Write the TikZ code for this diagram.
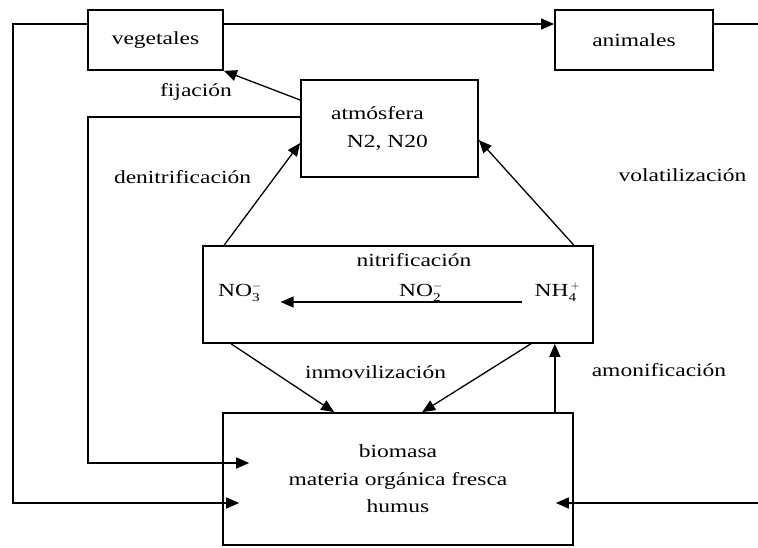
\documentclass[tikz,border=0pt]{standalone}
\usepackage{fontspec}
\setmainfont{Liberation Serif}[FakeStretch=1.27]
\usetikzlibrary{arrows.meta,calc}
\newcommand{\ionq}[3]{$\hbox{#1}_{\hbox{\fontsize{12}{12}\selectfont #2}}^{#3}$}

\begin{document}
\begin{tikzpicture}[x=1pt,y=-1pt,line width=1.3pt,
    font=\fontsize{18.5}{27.5}\selectfont,
    caja/.style={draw,line width=1.7pt,inner sep=0pt,align=center},
    rotulo/.style={inner sep=0pt,anchor=base},
    flecha/.style={-{Triangle[length=13pt,width=11pt]}}]
  \useasboundingbox (0,0) rectangle (758,548);
  % boxes
  \node[caja,minimum width=135,minimum height=60] (veg) at (155.5,40) {vegetales};
  \node[caja,minimum width=158,minimum height=60] (ani) at (634,40) {animales};
  \node[caja,minimum width=177,minimum height=97,align=left] (atm) at (389.5,128.5)
    {atmósfera\\\hspace*{0.85em}N2, N20\hspace*{20pt}};
  \node[caja,minimum width=390,minimum height=97] (sue) at (398,294.5) {};
  \node[caja,minimum width=350,minimum height=132] (bio) at (398,479)
    {biomasa\\materia orgánica fresca\hspace*{18pt}\\humus};
  % labels of the processes
  \node[rotulo] (fij) at (196,97) {fijación};
  \node[rotulo] (den) at (182.5,184) {denitrificación};
  \node[rotulo] (vol) at (682.5,182) {volatilización};
  \node[rotulo] (nitr) at (414,267) {nitrificación};
  \node[rotulo] (inm) at (375.5,378) {inmovilización};
  \node[rotulo] (amo) at (659,376) {amonificación};
  % ions inside the soil box
  \node[rotulo] (no3) at (240,297) {\ionq{NO}{3}{-}};
  \node[rotulo] (no2) at (421,297) {\ionq{NO}{2}{-}};
  \node[rotulo] (nh) at (557.5,297) {\ionq{NH}{4}{\,+}};
  % loose ends at the right margin
  \coordinate (borde a) at (758,24);
  \coordinate (borde b) at (758,503);
  % top line: vegetales -> animales, and on to the right
  \draw[flecha] ([yshift=16pt]veg.east) -- ([yshift=16pt]ani.west);
  \draw ([yshift=16pt]ani.east) -- (borde a);
  % return lines into the biomasa box
  \draw[flecha] ([yshift=16pt]veg.west) -| (13,503) -- ($(bio.west)+(17,24)$);
  \draw[flecha] ([yshift=11.5pt]atm.west) -| (88,463) -- ($(bio.west)+(27,-16)$);
  \draw[flecha] (borde b) -- ($(bio.east)+(-18,24)$);
  % fijacion
  \draw[flecha] ([yshift=28.5pt]atm.west) -- (veg.south east);
  % denitrificacion and volatilizacion
  \draw[flecha] ($(sue.north west)+(22,0)$) -- ([yshift=-14.5pt]atm.west);
  \draw[flecha] ($(sue.north east)+(-20,0)$) -- ([yshift=-11.5pt]atm.east);
  % nitrificacion
  \draw[flecha] ([shift={(-12,5)}]nh.base west) -- ([shift={(18,5)}]no3.base east);
  % inmovilizacion
  \draw[flecha] ($(sue.south west)+(29,0)$) -- ($(bio.north west)+(112,0)$);
  \draw[flecha] ($(sue.south east)+(-63,0)$) -- ($(bio.north west)+(200,0)$);
  % amonificacion
  \draw[flecha] ($(bio.north east)+(-19,0)$) -- ($(sue.south east)+(-39,0)$);
\end{tikzpicture}
\end{document}
